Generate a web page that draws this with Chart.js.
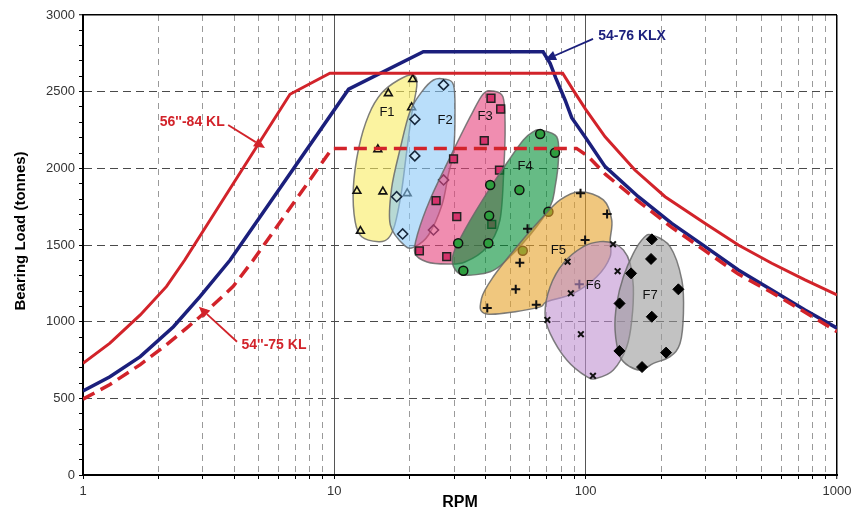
<!DOCTYPE html>
<html>
<head>
<meta charset="utf-8">
<script src="https://cdn.jsdelivr.net/npm/chart.js@4.4.1/dist/chart.umd.min.js"></script>
<style>
  html, body { margin: 0; padding: 0; background: #fff; }
</style>
</head>
<body>
<canvas id="chart" width="855" height="512"></canvas>
<script>
// Bearing load limit curves (RPM vs tonnes)
const kl56Rpm = [1, 1.28, 1.69, 2.15, 2.54, 6.66, 9.6, 81, 90, 100, 119.5, 157, 207, 299, 405, 550, 746, 1000];
const kl56Load = [728, 860, 1044, 1230, 1402, 2483, 2620, 2620, 2500, 2385, 2206, 1989, 1815, 1641, 1500, 1381, 1272, 1174];

const klx54Rpm = [1, 1.28, 1.69, 2.29, 2.92, 3.85, 11.4, 22.6, 67.7, 72.2, 76, 82.8, 88, 100, 119.5, 162, 220, 299, 405, 550, 746, 1000];
const klx54Load = [548, 641, 772, 967, 1163, 1402, 2516, 2760, 2760, 2685, 2590, 2446, 2330, 2200, 2011, 1815, 1641, 1489, 1337, 1207, 1076, 958];

const kl54Rpm = [1, 1.28, 1.69, 2.15, 2.59, 3.11, 3.96, 4.76, 9.8, 92, 102, 120, 162, 220, 299, 405, 550, 746, 1000];
const kl54Load = [495, 590, 720, 850, 960, 1070, 1230, 1402, 2130, 2130, 2080, 1960, 1785, 1615, 1462, 1310, 1190, 1062, 935];

// Field data groups F1..F7
const zoneNames = ['F1', 'F2', 'F3', 'F4', 'F5', 'F6', 'F7'];
const zonePointRpm = [
  [20.5, 16.4, 20.3, 14.9, 12.3, 15.6, 12.7, 19.5],
  [27.2, 20.9, 20.9, 17.7, 18.7, 27.2, 24.8],
  [42.0, 45.9, 39.5, 29.8, 45.4, 25.4, 30.7, 21.8, 28.0, 42.3],
  [65.9, 75.5, 41.7, 54.5, 41.3, 31.1, 41.0, 32.6, 71.1, 56.2],
  [95.4, 121.7, 58.7, 99.5, 54.7, 52.7, 40.6, 63.6, 94.4],
  [128.5, 84.7, 134, 87.3, 70.4, 95.7, 106.9],
  [183.3, 182, 151.6, 233.8, 136.4, 183.3, 136.2, 208.9, 167.6]
];
const zonePointLoad = [
  [2581, 2489, 2397, 2123, 1852, 1848, 1591, 1837],
  [2544, 2320, 2081, 1815, 1572, 1924, 1598],
  [2457, 2387, 2180, 2061, 1989, 1789, 1685, 1461, 1424, 1635],
  [2224, 2102, 1891, 1859, 1691, 1511, 1511, 1332, 1717, 1463],
  [1837, 1702, 1606, 1533, 1385, 1211, 1089, 1111, 1244],
  [1505, 1391, 1329, 1185, 1011, 918, 647],
  [1537, 1409, 1315, 1211, 1119, 1032, 809, 798, 704]
];
const zoneOutlineRpm = [
  [20.6, 21.3, 20.3, 19.4, 18.5, 17.4, 16.4, 15.0, 12.85, 12.1, 11.9, 12.5, 13.7, 15.4, 18.0],
  [27.2, 29.8, 30.2, 29.8, 28.4, 26.8, 23.7, 20.9, 19.1, 16.7, 16.9, 18.3, 20.0, 22.3, 24.8],
  [42.8, 46.9, 47.8, 47.3, 45.6, 40.5, 33.1, 28.1, 23.4, 20.9, 21.5, 24.0, 28.9, 34.7, 39.1],
  [65.8, 76.7, 77.9, 75.6, 72.2, 60.1, 48.5, 41.7, 32.6, 29.8, 29.8, 33.6, 40.4, 48.5, 56.5, 61.9],
  [95.0, 117.6, 127.0, 125.1, 125.1, 110.7, 89.4, 70.0, 63.9, 40.4, 38.5, 42.9, 53.2, 65.8, 79.1],
  [128.9, 141.3, 150.2, 154.8, 152.6, 145.7, 128.9, 110.7, 101.0, 84.1, 72.2, 68.9, 72.2, 81.5, 97.9, 114.1],
  [183.2, 216.7, 241.3, 244.9, 237.5, 216.7, 186.0, 167.2, 150.2, 137.1, 130.9, 133.0, 141.3, 154.8, 169.7]
];
const zoneOutlineLoad = [
  [2609, 2544, 2348, 2109, 1848, 1631, 1544, 1522, 1554, 1652, 1870, 2131, 2348, 2489, 2576],
  [2583, 2544, 2348, 2109, 1957, 1761, 1565, 1489, 1494, 1631, 1870, 2131, 2370, 2500, 2576],
  [2504, 2465, 2283, 2015, 1663, 1487, 1389, 1376, 1389, 1448, 1578, 1794, 2074, 2335, 2485],
  [2250, 2206, 2054, 1880, 1750, 1565, 1402, 1326, 1304, 1359, 1446, 1620, 1837, 2033, 2185, 2239],
  [1848, 1794, 1663, 1533, 1424, 1293, 1185, 1130, 1090, 1050, 1150, 1293, 1489, 1663, 1794],
  [1511, 1467, 1381, 1228, 1011, 837, 685, 631, 641, 750, 924, 1055, 1228, 1381, 1489, 1522],
  [1565, 1489, 1272, 1055, 859, 772, 728, 685, 706, 772, 946, 1120, 1293, 1446, 1544]
];
const zoneLabelRpm = [16.2, 27.6, 39.8, 57.4, 77.9, 107.3, 180.4];
const zoneLabelLoad = [2363, 2315, 2337, 2011, 1467, 1239, 1174];

// Curve callouts
const calloutText = ["56''-84 KL", "54''-75 KL", '54-76 KLX'];
const calloutRpm = [2.72, 5.75, 153];
const calloutLoad = [2304, 848, 2863];
const arrowFromRpm = [3.78, 4.10, 107];
const arrowFromLoad = [2283, 869, 2844];
const arrowToRpm = [5.30, 2.89, 68.9];
const arrowToLoad = [2133, 1098, 2707];

// Axis ticks
const rpmTicks = [1, 2, 3, 4, 5, 6, 7, 8, 9, 10, 20, 30, 40, 50, 60, 70, 80, 90,
  100, 200, 300, 400, 500, 600, 700, 800, 900, 1000];
const loadTicks = Array.from({ length: 31 }, (_, i) => i * 100);

const RED = '#d2232a';
const NAVY = '#1b1f7c';
const calloutColor = [RED, RED, NAVY];
const zoneFill = [
  'rgba(248, 235, 97, 0.6)',
  'rgba(138, 200, 247, 0.6)',
  'rgba(230, 65, 123, 0.6)',
  'rgba(0, 142, 52, 0.6)',
  'rgba(230, 162, 40, 0.6)',
  'rgba(192, 145, 208, 0.6)',
  'rgba(153, 153, 153, 0.6)'
];
const zoneMarker = [
  { pointStyle: 'triangle', pointRadius: 4.5, pointBackgroundColor: 'rgba(0,0,0,0)', pointBorderColor: '#111', pointBorderWidth: 1.6 },
  { pointStyle: 'rectRot', pointRadius: 5, pointBackgroundColor: 'rgba(255,255,255,0.25)', pointBorderColor: '#17283d', pointBorderWidth: 1.6 },
  { pointStyle: 'rect', pointRadius: 5.5, pointBackgroundColor: '#d6336c', pointBorderColor: '#222', pointBorderWidth: 1.5 },
  { pointStyle: 'circle', pointRadius: 4.5, pointBackgroundColor: '#2e9e3e', pointBorderColor: '#111', pointBorderWidth: 1.5 },
  { pointStyle: 'cross', pointRadius: 4.5, pointBackgroundColor: '#111', pointBorderColor: '#111', pointBorderWidth: 2 },
  { pointStyle: 'crossRot', pointRadius: 4, pointBackgroundColor: '#111', pointBorderColor: '#111', pointBorderWidth: 2 },
  { pointStyle: 'rectRot', pointRadius: 5.5, pointBackgroundColor: '#000', pointBorderColor: '#000', pointBorderWidth: 1 }
];

const zip = (xs, ys) => xs.map((x, i) => ({ x, y: ys[i] }));
const isDecade = v => Math.abs(Math.log10(v) - Math.round(Math.log10(v))) < 1e-9;

Chart.defaults.font.family = '"Liberation Sans", Arial, sans-serif';

const datasets = [
  { label: "56''-84 KL", data: zip(kl56Rpm, kl56Load), showLine: true, borderColor: RED, borderWidth: 3, pointRadius: 0, order: 0 },
  { label: "54''-75 KL", data: zip(kl54Rpm, kl54Load), showLine: true, borderColor: RED, borderWidth: 3.5, borderDash: [13, 7], pointRadius: 0, order: 1 },
  { label: '54-76 KLX', data: zip(klx54Rpm, klx54Load), showLine: true, borderColor: NAVY, borderWidth: 3.5, pointRadius: 0, order: 2 }
];

zoneNames.forEach((name, i) => {
  datasets.push({
    label: name + ' zone',
    data: zip(zoneOutlineRpm[i], zoneOutlineLoad[i]),
    zoneOutline: true,
    showLine: false,
    pointRadius: 0,
    backgroundColor: zoneFill[i],
    borderColor: 'rgba(105,105,105,0.85)',
    order: 100 - 2 * i
  });
  datasets.push(Object.assign({
    label: name,
    data: zip(zonePointRpm[i], zonePointLoad[i]),
    showLine: false,
    order: 99 - 2 * i
  }, zoneMarker[i]));
});

// Fill each zone as a smooth closed curve through its outline points
const zoneFillPlugin = {
  id: 'zoneFill',
  beforeDatasetDraw(chart, args) {
    const ds = chart.data.datasets[args.index];
    if (!ds.zoneOutline) return;
    const pts = args.meta.data.map(p => ({ x: p.x, y: p.y }));
    const n = pts.length;
    const ctx = chart.ctx;
    ctx.save();
    ctx.beginPath();
    ctx.moveTo(pts[0].x, pts[0].y);
    for (let i = 0; i < n; i++) {
      const p0 = pts[(i - 1 + n) % n], p1 = pts[i], p2 = pts[(i + 1) % n], p3 = pts[(i + 2) % n];
      ctx.bezierCurveTo(
        p1.x + (p2.x - p0.x) / 6, p1.y + (p2.y - p0.y) / 6,
        p2.x - (p3.x - p1.x) / 6, p2.y - (p3.y - p1.y) / 6,
        p2.x, p2.y);
    }
    ctx.closePath();
    ctx.fillStyle = ds.backgroundColor;
    ctx.fill();
    ctx.lineWidth = 1.5;
    ctx.strokeStyle = ds.borderColor;
    ctx.stroke();
    ctx.restore();
  }
};

// Zone names, curve callouts with arrows, y title
const labelPlugin = {
  id: 'labels',
  afterDatasetsDraw(chart) {
    const { ctx, scales: { x, y }, chartArea } = chart;
    ctx.save();
    ctx.textAlign = 'center';
    ctx.textBaseline = 'middle';
    ctx.font = '13px "Liberation Sans", Arial, sans-serif';
    ctx.fillStyle = '#111';
    zoneNames.forEach((name, i) => {
      ctx.fillText(name, x.getPixelForValue(zoneLabelRpm[i]), y.getPixelForValue(zoneLabelLoad[i]));
    });

    ctx.font = 'bold 14px "Liberation Sans", Arial, sans-serif';
    calloutText.forEach((t, i) => {
      const c = calloutColor[i];
      ctx.fillStyle = c;
      ctx.strokeStyle = c;
      ctx.fillText(t, x.getPixelForValue(calloutRpm[i]), y.getPixelForValue(calloutLoad[i]));
      const x1 = x.getPixelForValue(arrowFromRpm[i]), y1 = y.getPixelForValue(arrowFromLoad[i]);
      const x2 = x.getPixelForValue(arrowToRpm[i]), y2 = y.getPixelForValue(arrowToLoad[i]);
      const a = Math.atan2(y2 - y1, x2 - x1);
      const len = 11, half = 5;
      const bx = x2 - len * Math.cos(a), by = y2 - len * Math.sin(a);
      ctx.lineWidth = 1.8;
      ctx.beginPath();
      ctx.moveTo(x1, y1);
      ctx.lineTo(bx, by);
      ctx.stroke();
      ctx.beginPath();
      ctx.moveTo(x2, y2);
      ctx.lineTo(bx + half * Math.sin(a), by - half * Math.cos(a));
      ctx.lineTo(bx - half * Math.sin(a), by + half * Math.cos(a));
      ctx.closePath();
      ctx.fill();
    });

    ctx.translate(chartArea.left - 62, (chartArea.top + chartArea.bottom) / 2 - 14);
    ctx.rotate(-Math.PI / 2);
    ctx.fillStyle = '#000';
    ctx.font = 'bold 15px "Liberation Sans", Arial, sans-serif';
    ctx.fillText('Bearing Load (tonnes)', 0, 0);
    ctx.restore();
  }
};

new Chart(document.getElementById('chart'), {
  type: 'scatter',
  data: { datasets },
  plugins: [zoneFillPlugin, labelPlugin],
  options: {
    responsive: false,
    animation: false,
    layout: { padding: { top: 15, right: 18, left: 0, bottom: 0 } },
    plugins: { legend: { display: false }, tooltip: { enabled: false } },
    scales: {
      x: {
        type: 'logarithmic',
        min: 1,
        max: 1000,
        afterBuildTicks: s => { s.ticks = rpmTicks.map(v => ({ value: v })); },
        afterFit: s => { s.height = 37; s.paddingLeft = 0; s.paddingRight = 0; },
        ticks: {
          autoSkip: false, maxRotation: 0, minRotation: 0, padding: 5,
          color: '#333', font: { size: 13 },
          callback: v => (isDecade(v) ? String(v) : '')
        },
        grid: {
          color: c => {
            const v = c.tick && c.tick.value;
            if (v === 1000) return '#000';
            return isDecade(v) ? '#555' : '#9a9a9a';
          },
          lineWidth: c => (c.tick && c.tick.value === 1000 ? 1.5 : 1),
          tickLength: 4, tickColor: '#000', tickWidth: 1
        },
        border: {
          color: '#000', width: 2,
          dash: c => (c.tick && !isDecade(c.tick.value) ? [6, 5] : [])
        },
        title: {
          display: true, text: 'RPM', color: '#000',
          font: { size: 16, weight: 'bold' }, padding: { top: 0, bottom: 0 }
        }
      },
      y: {
        min: 0,
        max: 3000,
        afterBuildTicks: s => { s.ticks = loadTicks.map(v => ({ value: v })); },
        afterFit: s => { s.width = 83; s.paddingTop = 0; s.paddingBottom = 0; },
        ticks: {
          autoSkip: false, padding: 4, color: '#333', font: { size: 13 },
          callback: v => (v % 500 === 0 ? String(v) : '')
        },
        grid: {
          color: c => {
            const v = c.tick && c.tick.value;
            if (v % 500 !== 0) return 'rgba(0,0,0,0)';
            return v === 3000 ? '#000' : '#4a4a4a';
          },
          lineWidth: c => (c.tick && c.tick.value === 3000 ? 1.5 : 1),
          tickLength: 4, tickColor: '#000', tickWidth: 1
        },
        border: {
          color: '#000', width: 2,
          dash: c => {
            const v = c.tick && c.tick.value;
            return (v && v % 500 === 0 && v < 3000) ? [8, 5] : [];
          }
        }
      }
    }
  }
});
</script>
</body>
</html>
